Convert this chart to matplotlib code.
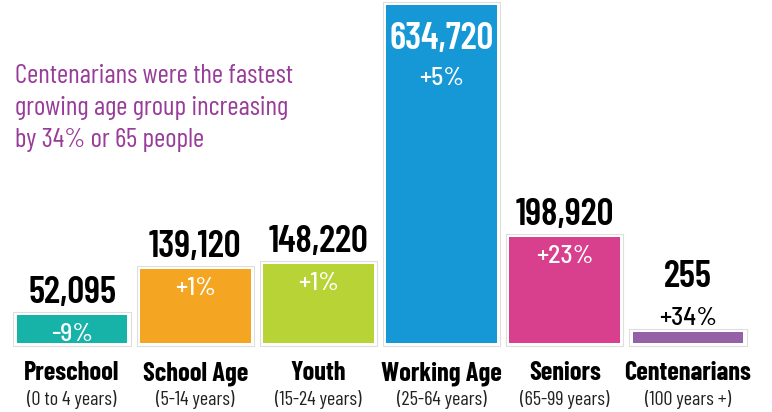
import matplotlib.pyplot as plt
import numpy as np

categories = ["Preschool", "School Age", "Youth", "Working Age", "Seniors", "Centenarians"]
age_ranges = ["(0 to 4 years)", "(5-14 years)", "(15-24 years)", "(25-64 years)", "(65-99 years)", "(100 years +)"]
population = [52095, 139120, 148220, 634720, 198920, 255]
change = ["-9%", "+1%", "+1%", "+5%", "+23%", "+34%"]
colors = ["#17b3a8", "#f4a521", "#b8d336", "#1698d6", "#d8408d", "#9461a6"]

note = ["Centenarians were the fastest",
        "growing age group increasing",
        "by 34% or 65 people"]

plt.rcParams['font.family'] = ['Barlow Condensed', 'DejaVu Sans']
semi = ['Barlow Semi Condensed', 'Barlow Condensed', 'DejaVu Sans']

W, H = 772, 412
k = 5.33e-4          # pixels per person
base = 343           # baseline, px from top
PT = 0.72            # px -> pt at dpi 100

fig = plt.figure(figsize=(W / 100, H / 100), dpi=100)
ax = fig.add_axes([0, 0, 1, 1])
ax.set_xlim(-72 / 123.2, (W - 72) / 123.2)
ax.set_ylim(-(H - base) / k, base / k)
ax.axis("off")

x = np.arange(len(categories))
shown = np.maximum(population, 11 / k)   # tiny bar still visible

# light frame around each bar
ax.bar(x, shown + 6 / k, bottom=-3 / k, width=0.95, color="white",
       edgecolor="#dedede", linewidth=0.8)
ax.bar(x, shown, width=0.9, color=colors, linewidth=0)

num = dict(ha="center", va="baseline", fontsize=27, fontweight="semibold", textcoords="offset points")
pct = dict(ha="center", va="baseline", fontsize=18.5, fontweight="medium", family=semi,
           textcoords="offset points")

for i in x:
    top = shown[i]
    if categories[i] == "Working Age":
        ax.annotate(f"{population[i]:,}", (i, top), xytext=(0, -44 * PT), color="white", **num)
        ax.annotate(change[i], (i, top), xytext=(0, -80 * PT), color="white", **pct)
    elif categories[i] == "Centenarians":
        ax.annotate(f"{population[i]:,}", (i, top), xytext=(0, 45 * PT), color="black", **num)
        ax.annotate(change[i], (i, top), xytext=(0, 7 * PT), color="black", **pct)
    else:
        ax.annotate(f"{population[i]:,}", (i, top), xytext=(0, 12 * PT), color="black", **num)
        ax.annotate(change[i], (i, top), xytext=(0, -26 * PT), color="white", **pct)

    ax.annotate(categories[i], (i, 0), xytext=(0, -37 * PT), textcoords="offset points",
                ha="center", va="baseline", fontsize=19, fontweight="bold", color="black")
    ax.annotate(age_ranges[i], (i, 0), xytext=(0, -62 * PT), textcoords="offset points",
                ha="center", va="baseline", fontsize=14.5, color="#222222")

for j, line in enumerate(note):
    fig.text(15 / W, 1 - (83 + 32 * j) / H, line, ha="left", va="baseline",
             fontsize=19.5, color="#983c99")

fig.savefig("out.png", dpi=100)
